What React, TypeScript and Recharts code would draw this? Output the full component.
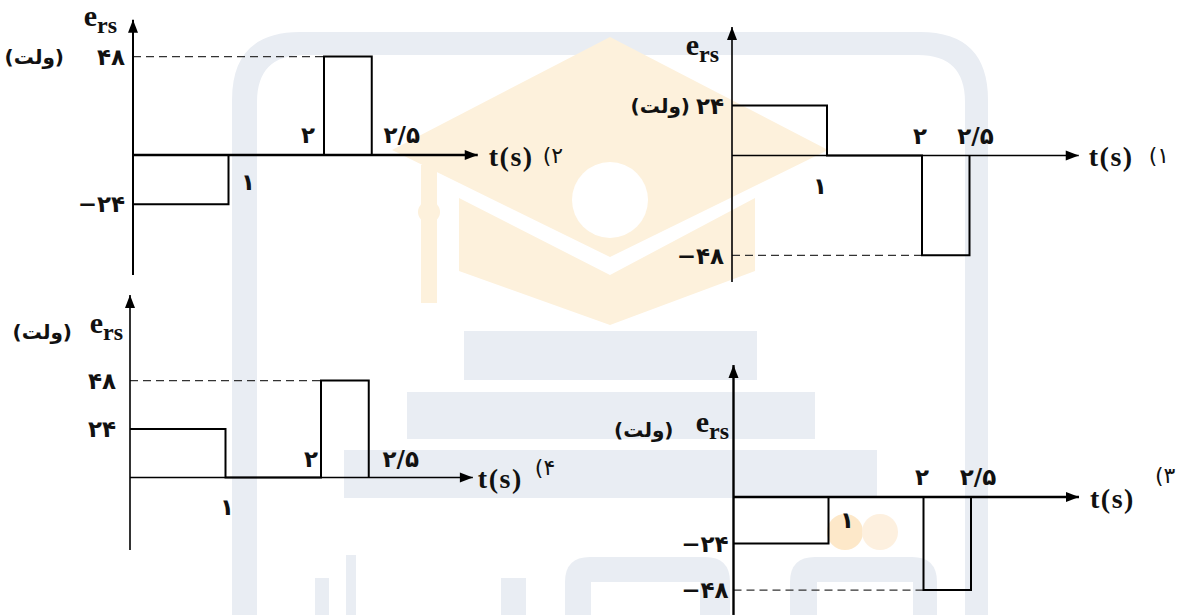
import React from 'react';
import { LineChart, Line, XAxis, YAxis, ReferenceLine, ReferenceDot } from 'recharts';

// ---------- data ----------
const T_POINTS = [0, 1, 1, 2, 2, 2.5, 2.5];
const V_PANEL1 = [24, 24, 0, 0, -48, -48, 0];
const V_PANEL2 = [-24, -24, 0, 0, 48, 48, 0];
const V_PANEL3 = [-24, -24, 0, 0, -48, -48, 0];
const V_PANEL4 = [24, 24, 0, 0, 48, 48, 0];

const X_TICKS = [1, 2, 2.5];
const X_TICK_LABELS = ['۱', '۲', '۲/۵'];

const Y_TICKS_1 = [24, -48];
const Y_TICK_LABELS_1 = ['۲۴', '−۴۸'];
const Y_TICKS_2 = [48, -24];
const Y_TICK_LABELS_2 = ['۴۸', '−۲۴'];
const Y_TICKS_3 = [-24, -48];
const Y_TICK_LABELS_3 = ['−۲۴', '−۴۸'];
const Y_TICKS_4 = [48, 24];
const Y_TICK_LABELS_4 = ['۴۸', '۲۴'];

const DASH_LEVELS = [-48, 48, -48, 48];
const DASH_END_T = 2;
const PANEL_NUMBERS = ['(۱', '(۲', '(۳', '(۴'];

const Y_TITLE = 'e';
const Y_TITLE_SUB = 'rs';
const UNIT_LABEL = '(ولت)';
const X_TITLE = 't(s)';

// ---------- layout / style ----------
const SERIF = "'Liberation Serif', 'DejaVu Serif', serif";
const FA = "'DejaVu Sans', sans-serif";
const INK = '#111';

type Cfg = {
  values: number[];
  yTicks: number[];
  yTickLabels: string[];
  dash: number;
  num: string;
  box: [number, number, number, number];
  x0: number; kx: number; xEnd: number;
  y0: number; ky: number; yTop: number; yBottom: number;
  yAxisW: number; xAxisW: number; tickMargin: number;
  xLab: [number, number][];
  eAnchor: number; eDx: number; eDy: number;
  uAnchor: number; uDx: number; uDy: number;
  tDx: number; nDx: number; nDy: number;
};

const PANELS: Cfg[] = [
  {
    values: V_PANEL1, yTicks: Y_TICKS_1, yTickLabels: Y_TICK_LABELS_1, dash: DASH_LEVELS[0], num: PANEL_NUMBERS[0],
    box: [600, 0, 1177, 300], x0: 732, kx: 95, xEnd: 3.65, y0: 155.5, ky: 2.08, yTop: 61.8, yBottom: -60.8,
    yAxisW: 1.6, xAxisW: 1.6, tickMargin: 8,
    xLab: [[-7, 30], [-2, -20], [6, -20]],
    eAnchor: 61.8, eDx: -13, eDy: 28,
    uAnchor: 24, uDx: -42, uDy: 0,
    tDx: 10, nDx: 70, nDy: 0,
  },
  {
    values: V_PANEL2, yTicks: Y_TICKS_2, yTickLabels: Y_TICK_LABELS_2, dash: DASH_LEVELS[1], num: PANEL_NUMBERS[1],
    box: [0, 0, 590, 290], x0: 133, kx: 95.5, xEnd: 3.61, y0: 155, ky: 2.05, yTop: 66, yBottom: -58.5,
    yAxisW: 2, xAxisW: 2.6, tickMargin: 8,
    xLab: [[19.5, 27], [-16, -20], [30, -20]],
    eAnchor: 66, eDx: -16, eDy: 6,
    uAnchor: 48, uDx: -69, uDy: 0,
    tDx: 11, nDx: 65, nDy: 0,
  },
  {
    values: V_PANEL3, yTicks: Y_TICKS_3, yTickLabels: Y_TICK_LABELS_3, dash: DASH_LEVELS[2], num: PANEL_NUMBERS[2],
    box: [600, 350, 1177, 615], x0: 733.5, kx: 95, xEnd: 3.637, y0: 497, ky: 1.94, yTop: 68, yBottom: -60.8,
    yAxisW: 2.4, xAxisW: 2.6, tickMargin: 5,
    xLab: [[18.5, 23], [-1.5, -20], [7, -20]],
    eAnchor: 68, eDx: -4.5, eDy: 67,
    uAnchor: 68, uDx: -60, uDy: 65,
    tDx: 11, nDx: 76, nDy: -22,
  },
  {
    values: V_PANEL4, yTicks: Y_TICKS_4, yTickLabels: Y_TICK_LABELS_4, dash: DASH_LEVELS[3], num: PANEL_NUMBERS[3],
    box: [0, 285, 590, 560], x0: 130, kx: 95.5, xEnd: 3.59, y0: 477.5, ky: 2.02, yTop: 90.3, yBottom: -35.9,
    yAxisW: 1.6, xAxisW: 1.6, tickMargin: 14,
    xLab: [[1.5, 29], [-10, -19], [32, -19]],
    eAnchor: 90.3, eDx: -7, eDy: 38,
    uAnchor: 90.3, uDx: -58, uDy: 37,
    tDx: 5, nDx: 62, nDy: -10,
  },
];

const digitStyle = { fontFamily: FA, fontWeight: 700, fontSize: 23, fill: INK } as const;

function Panel({ cfg }: { cfg: Cfg }) {
  const data = T_POINTS.map((t, i) => ({ t, v: cfg.values[i] }));
  const [bl, bt, br, bb] = cfg.box;
  const plotRight = cfg.x0 + cfg.kx * cfg.xEnd;
  const plotTop = cfg.y0 - cfg.ky * cfg.yTop;
  const plotBottom = cfg.y0 - cfg.ky * cfg.yBottom;

  const xArrow = (p: any) => (
    <polygon points={`${p.cx},${p.cy} ${p.cx - 13},${p.cy - 5} ${p.cx - 13},${p.cy + 5}`} fill="#000" />
  );
  const yArrow = (p: any) => (
    <polygon points={`${p.cx},${p.cy} ${p.cx - 5},${p.cy + 13} ${p.cx + 5},${p.cy + 13}`} fill="#000" />
  );

  return (
    <div style={{ position: 'absolute', left: bl, top: bt }}>
      <LineChart
        width={br - bl}
        height={bb - bt}
        data={data}
        margin={{ top: plotTop - bt, right: br - plotRight, bottom: bb - plotBottom, left: 0 }}
      >
        <XAxis type="number" dataKey="t" domain={[0, cfg.xEnd]} hide allowDataOverflow />
        <YAxis
          type="number"
          domain={[cfg.yBottom, cfg.yTop]}
          allowDataOverflow
          width={cfg.x0 - bl}
          ticks={cfg.yTicks}
          interval={0}
          tickLine={false}
          tickSize={0}
          tickMargin={cfg.tickMargin}
          axisLine={{ stroke: '#000', strokeWidth: cfg.yAxisW }}
          tickFormatter={(v: number) => cfg.yTickLabels[cfg.yTicks.indexOf(v)] ?? ''}
          tick={digitStyle}
        />
        <ReferenceLine y={0} stroke="#000" strokeWidth={cfg.xAxisW} ifOverflow="visible" />
        <ReferenceLine
          segment={[{ x: 0, y: cfg.dash }, { x: DASH_END_T, y: cfg.dash }]}
          stroke="#333"
          strokeWidth={1.2}
          strokeDasharray="8 5"
          ifOverflow="visible"
        />
        <Line
          dataKey="v"
          type="linear"
          stroke="#000"
          strokeWidth={2}
          dot={false}
          activeDot={false}
          isAnimationActive={false}
        />
        <ReferenceDot x={cfg.xEnd} y={0} r={0} ifOverflow="visible" shape={xArrow} />
        <ReferenceDot x={0} y={cfg.yTop} r={0} ifOverflow="visible" shape={yArrow} />
        {X_TICKS.map((t, i) => (
          <ReferenceDot
            key={'xt' + i}
            x={t}
            y={0}
            r={0}
            ifOverflow="visible"
            shape={(p: any) => (
              <text
                x={p.cx + cfg.xLab[i][0]}
                y={p.cy + cfg.xLab[i][1]}
                textAnchor="middle"
                dominantBaseline="central"
                {...digitStyle}
              >
                {X_TICK_LABELS[i]}
              </text>
            )}
          />
        ))}
        <ReferenceDot
          x={0}
          y={cfg.eAnchor}
          r={0}
          ifOverflow="visible"
          shape={(p: any) => (
            <text x={p.cx + cfg.eDx} y={p.cy + cfg.eDy} textAnchor="end" fontFamily={SERIF} fontWeight={700} fill={INK}>
              <tspan fontSize={30}>{Y_TITLE}</tspan>
              <tspan fontSize={24} dy={7}>{Y_TITLE_SUB}</tspan>
            </text>
          )}
        />
        <ReferenceDot
          x={0}
          y={cfg.uAnchor}
          r={0}
          ifOverflow="visible"
          shape={(p: any) => (
            <text
              x={p.cx + cfg.uDx}
              y={p.cy + cfg.uDy}
              textAnchor="end"
              dominantBaseline="central"
              fontFamily={FA}
              fontWeight={700}
              fontSize={20}
              fill={INK}
            >
              {UNIT_LABEL}
            </text>
          )}
        />
        <ReferenceDot
          x={cfg.xEnd}
          y={0}
          r={0}
          ifOverflow="visible"
          shape={(p: any) => (
            <g>
              <text
                x={p.cx + cfg.tDx}
                y={p.cy + 1}
                dominantBaseline="central"
                fontFamily={SERIF}
                fontWeight={700}
                fontSize={28}
                letterSpacing={1.5}
                fill={INK}
              >
                {X_TITLE}
              </text>
              <text
                x={p.cx + cfg.nDx}
                y={p.cy + cfg.nDy}
                dominantBaseline="central"
                fontFamily={FA}
                fontSize={22}
                fill={INK}
              >
                {cfg.num}
              </text>
            </g>
          )}
        />
      </LineChart>
    </div>
  );
}

function Watermark() {
  const gray = '#e9edf3';
  const orange = '#fdf1dc';
  return (
    <svg width={1177} height={615} style={{ position: 'absolute', left: 0, top: 0 }}>
      <path
        d="M232 615 L232 100 Q232 32 300 32 L920 32 Q988 32 988 100 L988 615 L965 615 L965 102 Q965 55 918 55 L304 55 Q257 55 257 102 L257 615 Z"
        fill={gray}
      />
      <polygon points="610,37 828,150 610,257 392,150" fill={orange} />
      <circle cx={610} cy={200} r={38} fill="#ffffff" />
      <polygon points="459,198 610,275 755,198 755,271 610,325 459,271" fill={orange} />
      <rect x={421} y={165} width={16} height={138} fill={orange} />
      <circle cx={429} cy={212} r={11} fill={orange} />
      <rect x={464} y={331} width={293} height={49} fill={gray} />
      <rect x={407} y={392} width={408} height={47} fill={gray} />
      <rect x={344} y={450} width={533} height={48} fill={gray} />
      <rect x={315} y={578} width={14} height={37} fill={gray} />
      <rect x={346} y={555} width={10} height={60} fill={gray} />
      <rect x={501} y={578} width={25} height={37} fill={gray} />
      <path d="M565 615 L565 582 Q565 557 590 557 L705 557 Q730 557 730 582 L730 615 L700 615 L700 582 L591 582 L591 615 Z" fill={gray} />
      <path d="M790 615 L790 582 Q790 557 815 557 L912 557 Q937 557 937 582 L937 615 L913 615 L913 582 L817 582 L817 615 Z" fill={gray} />
      <circle cx={845} cy={532} r={18} fill="#fde8c9" />
      <circle cx={880} cy={532} r={18} fill="#fdf0df" />
    </svg>
  );
}

export default function App() {
  return (
    <div
      style={{
        position: 'absolute',
        left: 0,
        top: 0,
        width: 1177,
        height: 615,
        background: '#ffffff',
        overflow: 'hidden',
      }}
    >
      <Watermark />
      {PANELS.map((cfg, i) => (
        <Panel key={i} cfg={cfg} />
      ))}
    </div>
  );
}
